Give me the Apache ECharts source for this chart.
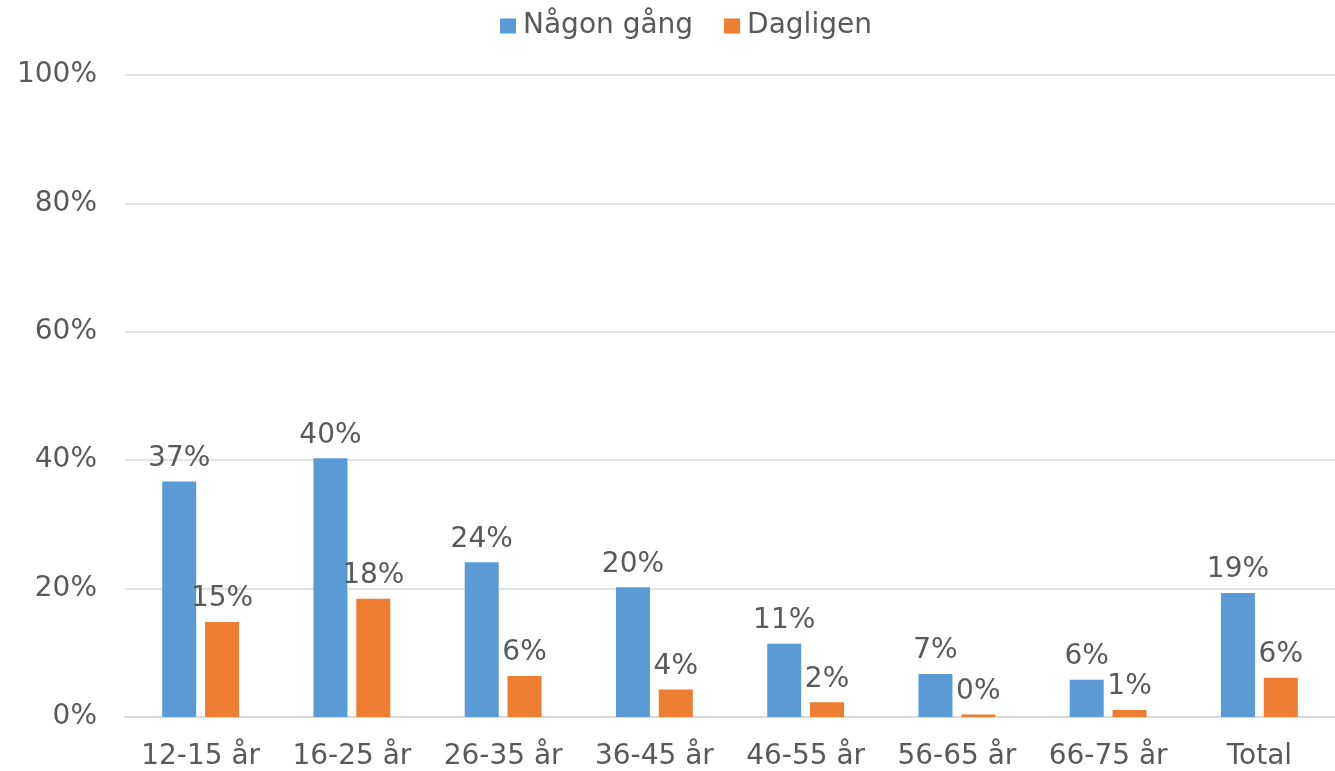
<!DOCTYPE html>
<html>
<head>
<meta charset="utf-8">
<script src="https://cdn.jsdelivr.net/npm/echarts@6/dist/echarts.min.js"></script>
<style>
html,body{margin:0;padding:0;background:#fff;}
#chart{width:1335px;height:771px;}
</style>
</head>
<body>
<div id="chart"></div>
<script>
var categories = ['12-15 år', '16-25 år', '26-35 år', '36-45 år', '46-55 år', '56-65 år', '66-75 år', 'Total'];
var seriesNames = ['Någon gång', 'Dagligen'];
var nagonGang = [36.7, 40.3, 24.1, 20.2, 11.4, 6.7, 5.8, 19.3];
var dagligen = [14.8, 18.4, 6.4, 4.3, 2.3, 0.4, 1.1, 6.1];
var yTicks = [0, 20, 40, 60, 80, 100];

var FONT = 'DejaVu Sans';
var TEXT = '#595959';
var FS = 28;
var labelCfg = {
  show: true,
  position: 'top',
  distance: 9,
  fontFamily: FONT,
  fontSize: FS,
  color: TEXT,
  formatter: function (p) { return Math.round(p.value) + '%'; }
};

var chart = echarts.init(document.getElementById('chart'), null, {renderer: 'canvas'});
chart.setOption({
  animation: false,
  backgroundColor: '#ffffff',
  textStyle: {fontFamily: FONT},
  legend: {
    data: seriesNames,
    top: 7,
    left: 495,
    icon: 'rect',
    itemWidth: 16,
    itemHeight: 15,
    itemGap: 31,
    textStyle: {fontFamily: FONT, fontSize: FS, color: TEXT, padding: [0, 0, 0, 2]}
  },
  grid: {left: 125, right: 0, top: 75, bottom: 53, containLabel: false},
  xAxis: {
    type: 'category',
    data: categories,
    axisLine: {show: true, lineStyle: {color: '#d9d9d9', width: 2}},
    axisTick: {show: false},
    axisLabel: {fontFamily: FONT, fontSize: FS, color: TEXT, margin: 26, interval: 0}
  },
  yAxis: {
    type: 'value',
    min: yTicks[0],
    max: yTicks[yTicks.length - 1],
    interval: 20,
    axisLine: {show: false},
    axisTick: {show: false},
    splitLine: {lineStyle: {color: '#d9d9d9', width: 1.5}},
    axisLabel: {fontFamily: FONT, fontSize: FS, color: TEXT, margin: 28,
      formatter: function (v) { return v + '%'; }}
  },
  series: [
    {name: seriesNames[0], type: 'bar', data: nagonGang, barWidth: 34, barGap: '26%',
     itemStyle: {color: '#5b9bd5'}, label: labelCfg},
    {name: seriesNames[1], type: 'bar', data: dagligen, barWidth: 34, barGap: '26%',
     itemStyle: {color: '#ed7d31'}, label: labelCfg}
  ]
});
</script>
</body>
</html>
